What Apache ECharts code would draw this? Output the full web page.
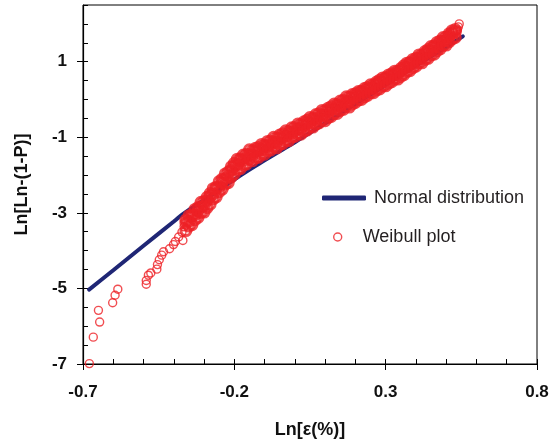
<!DOCTYPE html>
<html>
<head>
<meta charset="utf-8">
<script src="https://cdn.jsdelivr.net/npm/echarts@6/dist/echarts.min.js"></script>
<style>
html, body { margin: 0; padding: 0; background: #fff; }
#chart { width: 552px; height: 444px; }
</style>
</head>
<body>
<div id="chart"></div>
<script>
// normal distribution curve
var normalX = [-0.68, -0.6, -0.5, -0.4, -0.369, -0.3, -0.25, -0.2, -0.147, -0.1, -0.05, 0, 0.05, 0.1, 0.15, 0.2, 0.25, 0.3, 0.35, 0.4, 0.45, 0.5, 0.555];
var normalY = [-5.03, -4.52, -3.87, -3.23, -3.03, -2.66, -2.39, -2.12, -1.84, -1.61, -1.37, -1.13, -0.88, -0.63, -0.38, -0.12, 0.13, 0.38, 0.64, 0.89, 1.14, 1.39, 1.67];

// weibull plot, scattered points (lower tail + top end)
var sparseX = [-0.679, -0.666, -0.645, -0.649, -0.602, -0.594, -0.585, -0.491, -0.491, -0.484, -0.476, -0.456, -0.454, -0.448, -0.44, -0.434, -0.414, -0.401, -0.395, -0.37, -0.384, -0.373, -0.366, 0.537, 0.54, 0.543];
var sparseY = [-6.99, -6.29, -5.89, -5.58, -5.38, -5.18, -5.02, -4.89, -4.79, -4.65, -4.59, -4.49, -4.37, -4.24, -4.12, -4.03, -3.95, -3.84, -3.76, -3.73, -3.64, -3.51, -3.37, 1.84, 1.92, 2.0];

// weibull plot, dense band: top, middle and bottom of the band
var denseX = [-0.36, -0.35, -0.34, -0.33, -0.32, -0.31, -0.30, -0.29, -0.28, -0.27,
  -0.26, -0.25, -0.24, -0.23, -0.22, -0.21, -0.20, -0.19, -0.18, -0.17,
  -0.16, -0.15, -0.14, -0.13, -0.12, -0.11, -0.10, -0.09, -0.08, -0.07,
  -0.06, -0.05, -0.04, -0.03, -0.02, -0.01, 0.00, 0.01, 0.02, 0.03,
  0.04, 0.05, 0.06, 0.07, 0.08, 0.09, 0.10, 0.11, 0.12, 0.13,
  0.14, 0.15, 0.16, 0.17, 0.18, 0.19, 0.20, 0.21, 0.22, 0.23,
  0.24, 0.25, 0.26, 0.27, 0.28, 0.29, 0.30, 0.31, 0.32, 0.33,
  0.34, 0.35, 0.36, 0.37, 0.38, 0.39, 0.40, 0.41, 0.42, 0.43,
  0.44, 0.45, 0.46, 0.47, 0.48, 0.49, 0.50, 0.51, 0.52, 0.53];
var denseHigh = [-3.19, -3.08, -3.05, -2.91, -2.86, -2.72, -2.70, -2.59, -2.49, -2.36,
  -2.32, -2.17, -2.11, -1.97, -1.92, -1.78, -1.69, -1.58, -1.57, -1.47,
  -1.45, -1.33, -1.36, -1.29, -1.27, -1.19, -1.21, -1.11, -1.10, -1.00,
  -1.02, -0.94, -0.91, -0.83, -0.85, -0.75, -0.74, -0.65, -0.66, -0.59,
  -0.55, -0.48, -0.49, -0.40, -0.38, -0.29, -0.30, -0.23, -0.19, -0.12,
  -0.13, -0.04, -0.02, 0.07, 0.06, 0.13, 0.15, 0.21, 0.22, 0.29,
  0.32, 0.39, 0.39, 0.46, 0.51, 0.57, 0.58, 0.65, 0.68, 0.75,
  0.75, 0.82, 0.89, 0.96, 0.98, 1.06, 1.09, 1.18, 1.18, 1.27,
  1.32, 1.40, 1.42, 1.51, 1.55, 1.64, 1.65, 1.74, 1.82, 1.85];
var denseMid = [-3.27, -3.22, -3.09, -3.05, -2.95, -2.85, -2.81, -2.68, -2.57, -2.50,
  -2.36, -2.31, -2.20, -2.10, -2.03, -1.87, -1.77, -1.72, -1.61, -1.61,
  -1.54, -1.46, -1.47, -1.38, -1.35, -1.33, -1.25, -1.25, -1.19, -1.13,
  -1.13, -1.03, -0.99, -0.97, -0.89, -0.89, -0.83, -0.78, -0.77, -0.68,
  -0.63, -0.62, -0.53, -0.54, -0.47, -0.42, -0.41, -0.32, -0.27, -0.26,
  -0.17, -0.18, -0.11, -0.06, -0.05, 0.04, 0.09, 0.10, 0.19, 0.18,
  0.25, 0.30, 0.31, 0.40, 0.45, 0.46, 0.55, 0.54, 0.61, 0.66,
  0.67, 0.76, 0.83, 0.85, 0.95, 0.95, 1.02, 1.09, 1.10, 1.21,
  1.26, 1.29, 1.39, 1.40, 1.48, 1.55, 1.57, 1.68, 1.75, 1.78];
var denseLow = [-3.47, -3.35, -3.31, -3.18, -3.12, -2.99, -2.98, -2.86, -2.77, -2.63,
  -2.58, -2.44, -2.37, -2.24, -2.20, -2.05, -1.97, -1.85, -1.83, -1.74,
  -1.71, -1.58, -1.62, -1.54, -1.53, -1.44, -1.45, -1.36, -1.34, -1.25,
  -1.28, -1.19, -1.17, -1.08, -1.09, -1.00, -0.98, -0.90, -0.92, -0.84,
  -0.81, -0.73, -0.73, -0.65, -0.62, -0.54, -0.56, -0.48, -0.45, -0.37,
  -0.37, -0.29, -0.26, -0.18, -0.20, -0.12, -0.08, -0.01, 0.00, 0.07,
  0.11, 0.18, 0.18, 0.25, 0.28, 0.35, 0.36, 0.43, 0.47, 0.54,
  0.54, 0.61, 0.66, 0.74, 0.76, 0.84, 0.88, 0.97, 0.97, 1.06,
  1.09, 1.18, 1.20, 1.29, 1.34, 1.43, 1.44, 1.53, 1.60, 1.64];

var RED = '#ee2026';
var BLUE = '#1f2675';
var FONT = 'Arial, "Liberation Sans", sans-serif';

function pairs(xs, ys) {
  return xs.map(function (x, i) { return [x, ys[i]]; });
}

var denseData = pairs(denseX, denseHigh).concat(pairs(denseX, denseMid), pairs(denseX, denseLow));

var myChart = echarts.init(document.getElementById('chart'));

var tickFont = { fontFamily: FONT, fontSize: 17, fontWeight: 'bold', color: '#111' };
var nameFont = { fontFamily: FONT, fontSize: 18, fontWeight: 'bold', color: '#111' };

var option = {
  animation: false,
  grid: {
    left: 83, right: 15, top: 5, bottom: 78,
    show: true, borderColor: '#000', borderWidth: 1
  },
  legend: [
    {
      left: 317, top: 184,
      itemWidth: 44, itemHeight: 5,
      textStyle: { fontFamily: FONT, fontSize: 18, color: '#231f20', padding: [0, 0, 0, 3] },
      data: [{ name: 'Normal distribution', icon: 'roundRect', itemStyle: { color: BLUE } }]
    },
    {
      left: 328, top: 223,
      itemWidth: 40, itemHeight: 8,
      textStyle: { fontFamily: FONT, fontSize: 18, color: '#231f20' },
      data: [{ name: 'Weibull plot', icon: 'circle', itemStyle: { color: '#fff', borderColor: RED, borderWidth: 1.4 } }]
    }
  ],
  xAxis: [
    {
      type: 'value', min: -0.7, max: 0.8, interval: 0.5, position: 'bottom',
      name: 'Ln[ε(%)]', nameLocation: 'middle', nameGap: 57,
      nameTextStyle: nameFont,
      axisLine: { onZero: false, lineStyle: { color: '#000', width: 1.2 } },
      axisTick: { inside: false, length: 6, lineStyle: { color: '#000' } },
      axisLabel: Object.assign({ margin: 20 }, tickFont),
      splitLine: { show: false }
    },
    {
      type: 'value', min: -0.7, max: 0.8, interval: 0.1, position: 'bottom',
      axisLine: { show: false, onZero: false },
      axisTick: { inside: true, length: 5, lineStyle: { color: '#000' } },
      axisLabel: { show: false },
      splitLine: { show: false }
    }
  ],
  yAxis: [
    {
      type: 'value', min: -7, max: 2.5, interval: 2, position: 'left',
      name: 'Ln[Ln-(1-P)]', nameLocation: 'middle', nameGap: 52,
      nameTextStyle: nameFont,
      axisLine: { onZero: false, lineStyle: { color: '#000', width: 1.2 } },
      axisTick: { inside: false, length: 6, lineStyle: { color: '#000' } },
      axisLabel: Object.assign({ margin: 16, showMaxLabel: false }, tickFont),
      splitLine: { show: false }
    },
    {
      type: 'value', min: -7, max: 2.5, interval: 0.5, position: 'left',
      axisLine: { show: false, onZero: false },
      axisTick: { inside: true, length: 5, lineStyle: { color: '#000' } },
      axisLabel: { show: false },
      splitLine: { show: false }
    }
  ],
  series: [
    {
      name: 'Normal distribution',
      type: 'line',
      z: 1,
      smooth: true,
      showSymbol: false,
      color: BLUE,
      lineStyle: { color: BLUE, width: 4, cap: 'round' },
      data: pairs(normalX, normalY)
    },
    {
      name: 'Weibull plot',
      type: 'scatter',
      z: 3,
      symbol: 'circle',
      symbolSize: 8,
      itemStyle: { color: 'rgba(0,0,0,0)', borderColor: RED, borderWidth: 1.4 },
      data: pairs(sparseX, sparseY)
    },
    {
      name: 'Weibull plot',
      type: 'scatter',
      z: 3,
      symbol: 'circle',
      symbolSize: 10,
      itemStyle: { color: 'rgba(0,0,0,0)', borderColor: RED, borderWidth: 3 },
      data: denseData
    }
  ]
};

myChart.setOption(option);
</script>
</body>
</html>
